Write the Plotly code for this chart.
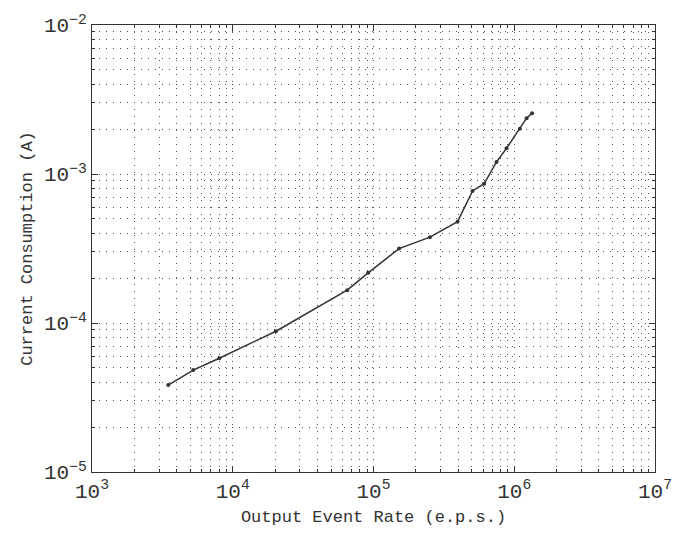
import plotly.graph_objects as go

rate = [3480, 5240, 8020, 20270, 65000, 91700, 152000, 251600, 395500,
        505600, 611000, 748000, 881000, 1096000, 1223000, 1340000]
current = [3.83e-5, 4.83e-5, 5.8e-5, 8.8e-5, 1.66e-4, 2.17e-4, 3.16e-4, 3.77e-4, 4.79e-4,
           7.7e-4, 8.6e-4, 1.205e-3, 1.486e-3, 2.01e-3, 2.37e-3, 2.56e-3]

x_major = [1e3, 1e4, 1e5, 1e6, 1e7]
x_labels = ["10<sup>3</sup>", "10<sup>4</sup>", "10<sup>5</sup>", "10<sup>6</sup>", "10<sup>7</sup>"]
y_major = [1e-5, 1e-4, 1e-3, 1e-2]
y_labels = ["10<sup>−5</sup>", "10<sup>−4</sup>", "10<sup>−3</sup>", "10<sup>−2</sup>"]

x_minor = [m * 10 ** e for e in range(3, 7) for m in range(2, 10)]
y_minor = [m * 10.0 ** e for e in range(-5, -2) for m in range(2, 10)]

font = "Liberation Mono, Courier New, monospace"
dash = "1px,6px"
gcol = "#555555"

fig = go.Figure()
fig.add_trace(go.Scatter(
    x=rate, y=current, mode="lines+markers",
    line=dict(color="#333333", width=1.5),
    marker=dict(color="#333333", size=4),
    showlegend=False,
))

axis_common = dict(
    type="log",
    showline=True, linecolor="#333333", linewidth=1, mirror="ticks",
    ticks="inside", ticklen=6, tickcolor="#333333",
    showgrid=True, gridcolor=gcol, griddash=dash, gridwidth=1,
    zeroline=False,
    tickfont=dict(family=font, size=21, color="#333333"),
)

fig.update_xaxes(
    **axis_common,
    range=[3, 7],
    tickmode="array", tickvals=x_major, ticktext=x_labels,
    minor=dict(tickmode="array", tickvals=x_minor, ticks="inside", ticklen=3,
               tickcolor="#333333", showgrid=True, gridcolor=gcol,
               griddash=dash, gridwidth=1),
    title=dict(text="Output Event Rate (e.p.s.)",
               font=dict(family=font, size=17, color="#333333"), standoff=6),
)
fig.update_yaxes(
    **axis_common,
    range=[-5, -2],
    tickmode="array", tickvals=y_major, ticktext=y_labels,
    minor=dict(tickmode="array", tickvals=y_minor, ticks="inside", ticklen=3,
               tickcolor="#333333", showgrid=True, gridcolor=gcol,
               griddash=dash, gridwidth=1),
    title=dict(text="Current Consumption (A)",
               font=dict(family=font, size=17, color="#333333"), standoff=6),
)

fig.update_layout(
    width=690, height=538,
    margin=dict(l=92, r=35, t=19, b=66),
    plot_bgcolor="white", paper_bgcolor="white",
)

fig.write_html("out.html")
